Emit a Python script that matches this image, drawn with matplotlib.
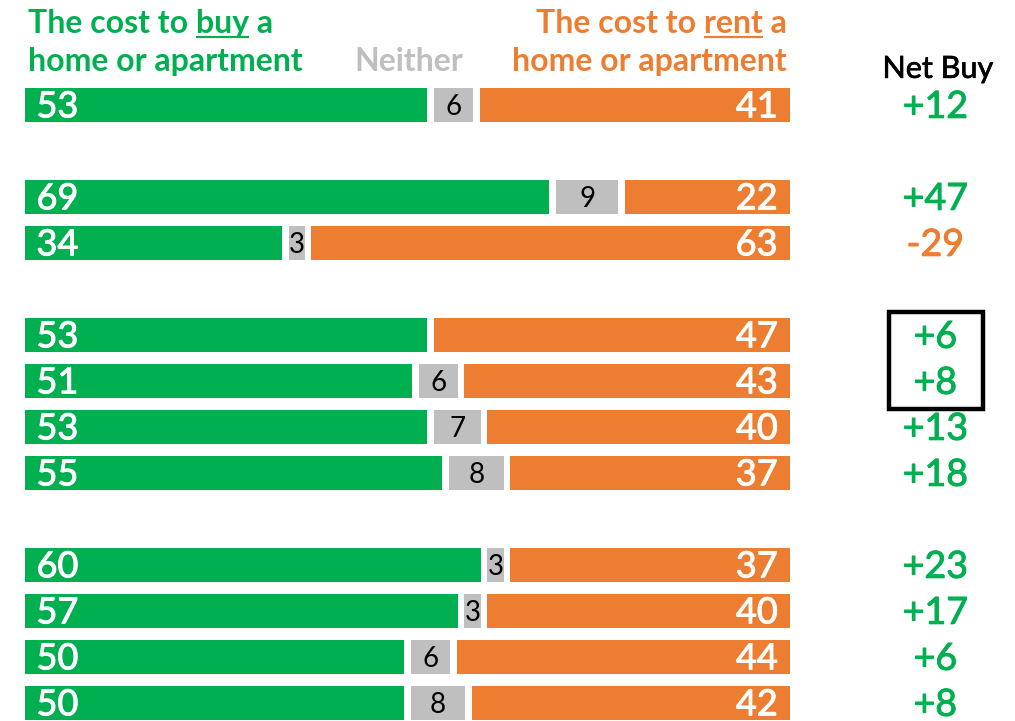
import matplotlib
matplotlib.use("Agg")
import matplotlib.pyplot as plt
import matplotlib.patheffects as pe
from matplotlib.patches import Rectangle

# survey shares per row (percent)
buy = [53, 69, 34, 53, 51, 53, 55, 60, 57, 50, 50]
neither = [6, 9, 3, 0, 6, 7, 8, 3, 3, 6, 8]
rent = [41, 22, 63, 47, 43, 40, 37, 37, 40, 44, 42]
# vertical slot of each row (blank slots separate the groups)
slots = [0, 2, 3, 5, 6, 7, 8, 10, 11, 12, 13]
boxed = [3, 4]

GREEN = "#00B050"
ORANGE = "#ED7D31"
GRAY = "#BFBFBF"
FONT = "Lato"

W, H = 1015, 721
px_per_unit = 7.65      # 100% spans 765 px
px_per_slot = 46
x0_px, y0_px = 25, 105
gap = 0.9               # white gap between segments, in % units
bar_h = 0.74

fig = plt.figure(figsize=(W / 100, H / 100), dpi=100)
ax = fig.add_axes([0, 0, 1, 1])
ax.set_xlim(-x0_px / px_per_unit, (W - x0_px) / px_per_unit)
ax.set_ylim((H - y0_px) / px_per_slot, -y0_px / px_per_slot)
ax.axis("off")

net_x = 119.0
dy = 0.04


def heavy(color, lw=0.7):
    # slightly thicker glyphs than the regular weight
    return [pe.withStroke(linewidth=lw, foreground=color)]


num = dict(family=FONT, va="center")

for i, (b, n, r, s) in enumerate(zip(buy, neither, rent, slots)):
    # green segment
    ax.add_patch(Rectangle((0, s - bar_h / 2), b - gap / 2, bar_h,
                           color=GREEN, lw=0))
    ax.text(1.5, s + dy, str(b), color="white", fontsize=26, ha="left",
            path_effects=heavy("white"), **num)
    # neither segment
    if n > 0:
        ax.add_patch(Rectangle((b + gap / 2, s - bar_h / 2), n - gap, bar_h,
                               color=GRAY, lw=0))
        ax.text(b + n / 2, s + dy, str(n), color="black", fontsize=20,
                ha="center", **num)
    # orange segment
    start = b + n
    ax.add_patch(Rectangle((start + gap / 2, s - bar_h / 2),
                           100 - start - gap / 2, bar_h, color=ORANGE, lw=0))
    ax.text(98.4, s + dy, str(r), color="white", fontsize=26, ha="right",
            path_effects=heavy("white"), **num)
    # net buy column
    net = b - r
    c = GREEN if net >= 0 else ORANGE
    ax.text(net_x, s + dy, f"{net:+d}", color=c, fontsize=27, ha="center",
            path_effects=heavy(c), **num)

# box around highlighted net values
top = slots[boxed[0]] - 0.5
bot = slots[boxed[-1]] + 0.6
ax.add_patch(Rectangle((net_x - 6.0, top), 12.2, bot - top, fill=False,
                       ec="black", lw=3.2))

# column headers
hdr = dict(fontsize=23, family=FONT, fontweight="bold", va="baseline")
y1, y2 = -1.565, -0.739
t_buy = ax.text(0.4, y1, "The cost to buy a", color=GREEN, ha="left", **hdr)
ax.text(0.4, y2, "home or apartment", color=GREEN, ha="left", **hdr)
t_rent = ax.text(99.6, y1, "The cost to rent a", color=ORANGE, ha="right", **hdr)
ax.text(99.6, y2, "home or apartment", color=ORANGE, ha="right", **hdr)
ax.text(50.1, y2, "Neither", color=GRAY, ha="center", **hdr)
ax.text(net_x + 0.3, -0.59, "Net Buy", color="black", fontsize=22,
        family=FONT, ha="center", va="baseline",
        path_effects=heavy("black", 0.5))

# underline a word inside a header line by measuring its substring extent
renderer = fig.canvas.get_renderer()


def underline(text_obj, before, word, color):
    probe = ax.text(0, 0, before, **hdr)
    w_before = probe.get_window_extent(renderer).width
    probe.set_text(before + word)
    w_word = probe.get_window_extent(renderer).width
    probe.remove()
    bb = text_obj.get_window_extent(renderer)
    inv = ax.transData.inverted()
    xa = bb.x0 + w_before
    xb = bb.x0 + w_word
    y_text = ax.transData.transform((0, text_obj.get_position()[1]))[1]
    ya = y_text - 4
    (xd0, yd), (xd1, _) = inv.transform([(xa, ya), (xb, ya)])
    ax.plot([xd0, xd1], [yd, yd], color=color, lw=1.6, solid_capstyle="butt")


underline(t_buy, "The cost to ", "buy", GREEN)
underline(t_rent, "The cost to ", "rent", ORANGE)

fig.savefig("out.png", dpi=100)
